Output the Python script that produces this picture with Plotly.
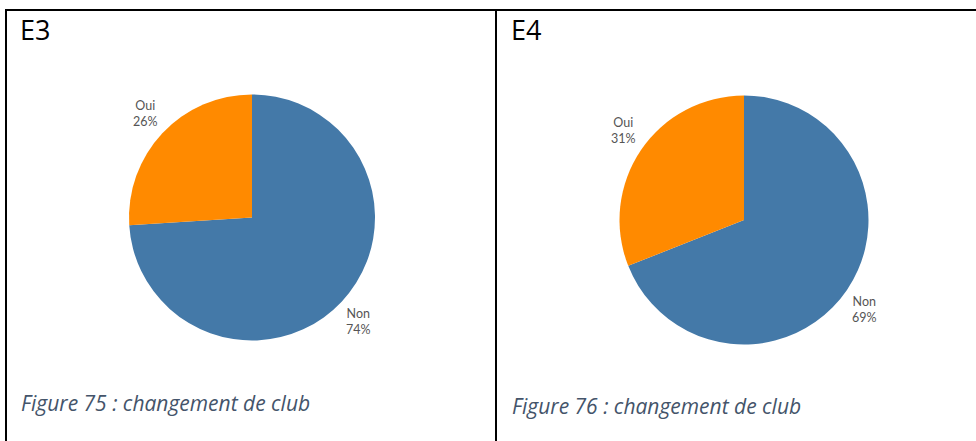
import math
import plotly.graph_objects as go

W, H = 976, 441

labels = ["Non", "Oui"]
e3_values = [74, 26]
e4_values = [69, 31]
panel_titles = ["E3", "E4"]
captions = ["Figure 75 : changement de club", "Figure 76 : changement de club"]

BLUE = "#4479A8"
ORANGE = "#FF8A00"
GREY = "#555555"
CAPTION = "#44546A"

def px_x(v):
    return v / W

def px_y(v):
    return 1 - v / H

def dom(cx, cy, r):
    return dict(x=[px_x(cx - r), px_x(cx + r)], y=[px_y(cy + r), px_y(cy - r)])

fig = go.Figure()
annotations = []
pies = [(e3_values, (252, 217.5, 123)), (e4_values, (744, 220, 124.5))]
for vals, (cx, cy, r) in pies:
    fig.add_trace(go.Pie(
        labels=labels, values=vals, sort=False, direction="clockwise", rotation=0,
        marker=dict(colors=[BLUE, ORANGE], line=dict(width=0)),
        textinfo="none",
        domain=dom(cx, cy, r), showlegend=False, hoverinfo="skip",
    ))
    total = sum(vals)
    cum = 0
    for lab, v in zip(labels, vals):
        theta = 2 * math.pi * (cum + v / 2) / total
        cum += v
        sx, sy = math.sin(theta), math.cos(theta)
        d = r + 4.5
        x = cx + d * sx
        y = cy - d * sy
        annotations.append(dict(
            text=f"{lab}<br>{round(100 * v / total)}%",
            x=px_x(x), y=px_y(y), xref="paper", yref="paper",
            xanchor="left" if sx > 0 else "right",
            yanchor="bottom" if sy > 0 else "top",
            align="center", showarrow=False, borderpad=0,
            font=dict(family="Lato", size=12.5, color=GREY),
        ))

line = dict(color="black", width=2)
shapes = [
    dict(type="line", xref="paper", yref="paper", x0=px_x(5), x1=1, y0=px_y(10), y1=px_y(10), line=line),
    dict(type="line", xref="paper", yref="paper", x0=px_x(6), x1=px_x(6), y0=px_y(10), y1=0, line=line),
    dict(type="line", xref="paper", yref="paper", x0=px_x(496), x1=px_x(496), y0=px_y(10), y1=0, line=line),
]

for t, x in zip(panel_titles, [19, 510]):
    annotations.append(dict(text=t, x=px_x(x), y=px_y(29.5), xref="paper", yref="paper",
                            xanchor="left", yanchor="middle", showarrow=False, borderpad=0,
                            font=dict(family="Open Sans", size=27, color="black")))
for c, x, y in zip(captions, [20, 511], [403, 406]):
    annotations.append(dict(text="<i>" + c + "</i>", x=px_x(x), y=px_y(y), xref="paper", yref="paper",
                            xanchor="left", yanchor="middle", showarrow=False, borderpad=0,
                            font=dict(family="Open Sans", size=21, color=CAPTION)))

fig.update_layout(
    width=W, height=H, margin=dict(l=0, r=0, t=0, b=0),
    paper_bgcolor="white", plot_bgcolor="white",
    shapes=shapes, annotations=annotations,
)

fig.write_html("out.html", config={"displayModeBar": False},
               post_script="document.body.style.margin='0';")
